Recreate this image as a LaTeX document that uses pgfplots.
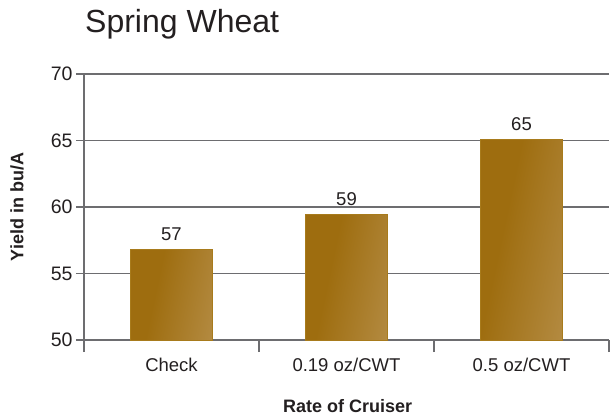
\documentclass[border=0pt]{standalone}
\usepackage{pgfplots}
\pgfplotsset{compat=1.18}
\usepackage{fontspec}
\setmainfont{Liberation Sans}
\definecolor{gridgray}{HTML}{6D6D70}
\definecolor{barD}{HTML}{9E6D0F}
\definecolor{barL}{HTML}{BE995A}
\definecolor{barE}{HTML}{A87B1C}
\definecolor{txt}{HTML}{231F20}
\pgfdeclarehorizontalshading{bargrad}{100bp}{color(0bp)=(barD); color(40bp)=(barD); color(100bp)=(barL)}
\pgfplotsset{
  mybar/.style={ybar, bar shift=0pt, bar width=81.6pt, draw=barE, line width=0.8pt,
    shade, shading=bargrad, shading angle=-12,
    nodes near coords, point meta=explicit symbolic,
    every node near coord/.append style={font=\fontsize{18.5}{22}\selectfont, text=txt, yshift=5pt}},
}
\begin{document}
\begin{tikzpicture}
\useasboundingbox (0,0) rectangle (610pt,417pt);
\begin{axis}[
  at={(84pt,77pt)}, anchor=south west,
  scale only axis, width=525pt, height=266pt,
  xmin=-0.5, xmax=2.5, ymin=50, ymax=70,
  axis x line*=bottom, axis y line*=left,
  axis line style={draw=gridgray, line width=1.8pt, -},
  ytick={50,55,60,65,70},
  ymajorgrids=true,
  grid style={draw=gridgray, line width=1.8pt},
  tick align=outside,
  major tick length=8pt, minor tick length=12pt,
  tick style={draw=gridgray, line width=1.8pt},
  xtick={0,1,2},
  xticklabels={Check, 0.19 oz/CWT, 0.5 oz/CWT},
  minor xtick={-0.5,0.5,1.5,2.5},
  major x tick style={draw=none},
  ticklabel style={font=\fontsize{18.5}{22}\selectfont, text=txt},
  yticklabel style={font=\fontsize{19.5}{22}\selectfont},
  xticklabel style={text height=13.5pt, text depth=4pt, yshift=-6pt},
  /pgf/number format/assume math mode=true,
  xlabel={Rate of Cruiser},
  ylabel={Yield in bu/A},
  xlabel style={font=\bfseries\fontsize{18}{22}\selectfont, text=txt, at={(axis description cs:0.502,-0.272)}, anchor=base, inner sep=0pt},
  ylabel style={font=\bfseries\fontsize{18}{22}\selectfont, text=txt, at={(axis description cs:-0.1276,0.5)}, anchor=center, rotate=0},
  title={Spring Wheat},
  title style={font=\fontsize{32}{36}\selectfont, text=txt, at={(axis description cs:0,1)}, anchor=base west, inner sep=0pt, xshift=1pt, yshift=35.7pt},
  clip=false,
]
\addplot[mybar] coordinates {(0,56.8) [57]};
\addplot[mybar] coordinates {(1,59.45) [59]};
\addplot[mybar] coordinates {(2,65.08) [65]};
\end{axis}
\end{tikzpicture}
\end{document}
